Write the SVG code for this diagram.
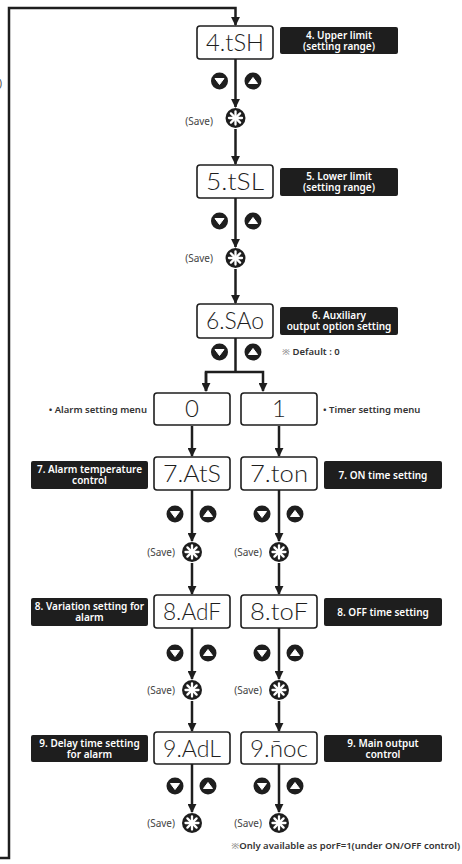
<svg xmlns="http://www.w3.org/2000/svg" xmlns:xlink="http://www.w3.org/1999/xlink" width="462" height="864" viewBox="0 0 462 864">
<style>
.ln{fill:none;stroke:#1e1e1e;stroke-width:2.5}
.box{fill:#fff;stroke:#1e1e1e;stroke-width:1.6}
.seg{font-family:Lato,"Open Sans","DejaVu Sans",sans-serif;font-size:24px;fill:#1e1e1e;text-anchor:middle;font-weight:300}
.lbl{fill:#1e1e1e}
.lt{font-family:"Noto Sans","DejaVu Sans",sans-serif;font-size:10px;font-weight:600;fill:#fff;text-anchor:middle}
.sv{font-family:"Noto Sans","DejaVu Sans",sans-serif;font-size:10px;fill:#444;text-anchor:end}
.note{font-family:"Noto Sans","DejaVu Sans",sans-serif;font-size:9.5px;font-weight:600;fill:#333}
</style>
<defs>
<marker id="ah" viewBox="0 0 10 10" refX="9" refY="5" markerWidth="9" markerHeight="9" markerUnits="userSpaceOnUse" orient="auto"><path d="M0,0 L10,5 L0,10 z" fill="#1e1e1e"/></marker>
<g id="save"><circle r="10" fill="#1e1e1e"/><g stroke="#fff" stroke-width="2.3" stroke-linecap="round"><line x1="0" y1="-6.5" x2="0" y2="6.5"/><line x1="-6.5" y1="0" x2="6.5" y2="0"/><line x1="-4.6" y1="-4.6" x2="4.6" y2="4.6"/><line x1="-4.6" y1="4.6" x2="4.6" y2="-4.6"/></g></g>
<g id="dn"><circle r="8.5" fill="#1e1e1e"/><path d="M-4.5,-2.5 L4.5,-2.5 L0,3.5 z" fill="#fff" stroke="#fff" stroke-width="1" stroke-linejoin="round"/></g>
<g id="up"><circle r="8.5" fill="#1e1e1e"/><path d="M-4.5,2.5 L4.5,2.5 L0,-3.5 z" fill="#fff" stroke="#fff" stroke-width="1" stroke-linejoin="round"/></g>
</defs>
<rect width="462" height="864" fill="#fff"/>
<text x="-1" y="87" class="sv" style="text-anchor:start">)</text>
<g id="connectors">
<path class="ln" d="M0,858 H9 V8 H235.5 V25" marker-end="url(#ah)"/>
<line class="ln" x1="235.5" y1="59" x2="235.5" y2="107" marker-end="url(#ah)"/>
<line class="ln" x1="235.5" y1="129" x2="235.5" y2="164" marker-end="url(#ah)"/>
<line class="ln" x1="235.5" y1="198" x2="235.5" y2="247" marker-end="url(#ah)"/>
<line class="ln" x1="235.5" y1="269" x2="235.5" y2="303" marker-end="url(#ah)"/>
<line class="ln" x1="235.5" y1="338" x2="235.5" y2="372"/>
<path class="ln" d="M206,391 V372 H263 V391" marker-end="url(#ah)"/>
<line class="ln" x1="206" y1="372" x2="206" y2="391" marker-end="url(#ah)"/>
<line class="ln" x1="192" y1="426" x2="192" y2="456" marker-end="url(#ah)"/>
<line class="ln" x1="279" y1="426" x2="279" y2="456" marker-end="url(#ah)"/>
<line class="ln" x1="192" y1="490" x2="192" y2="541" marker-end="url(#ah)"/>
<line class="ln" x1="279" y1="490" x2="279" y2="541" marker-end="url(#ah)"/>
<line class="ln" x1="192" y1="563" x2="192" y2="594" marker-end="url(#ah)"/>
<line class="ln" x1="279" y1="563" x2="279" y2="594" marker-end="url(#ah)"/>
<line class="ln" x1="192" y1="628" x2="192" y2="679" marker-end="url(#ah)"/>
<line class="ln" x1="279" y1="628" x2="279" y2="679" marker-end="url(#ah)"/>
<line class="ln" x1="192" y1="701" x2="192" y2="731" marker-end="url(#ah)"/>
<line class="ln" x1="279" y1="701" x2="279" y2="731" marker-end="url(#ah)"/>
<line class="ln" x1="192" y1="764" x2="192" y2="812" marker-end="url(#ah)"/>
<line class="ln" x1="279" y1="764" x2="279" y2="812" marker-end="url(#ah)"/>
</g>
<g id="icons">
<use xlink:href="#dn" x="219.5" y="81"/><use xlink:href="#up" x="253" y="81"/><use xlink:href="#save" x="235.5" y="118"/>
<text x="213" y="125" class="sv">(Save)</text>
<use xlink:href="#dn" x="219.5" y="221"/><use xlink:href="#up" x="253" y="221"/><use xlink:href="#save" x="235.5" y="258"/>
<text x="213" y="262" class="sv">(Save)</text>
<use xlink:href="#dn" x="219.5" y="352"/><use xlink:href="#up" x="253" y="352"/>
<use xlink:href="#dn" x="175" y="514"/><use xlink:href="#up" x="208" y="514"/><use xlink:href="#save" x="192" y="552"/>
<use xlink:href="#dn" x="262" y="514"/><use xlink:href="#up" x="295" y="514"/><use xlink:href="#save" x="279" y="552"/>
<text x="175" y="556" class="sv">(Save)</text><text x="262" y="556" class="sv">(Save)</text>
<use xlink:href="#dn" x="175" y="653"/><use xlink:href="#up" x="208" y="653"/><use xlink:href="#save" x="192" y="690"/>
<use xlink:href="#dn" x="262" y="653"/><use xlink:href="#up" x="295" y="653"/><use xlink:href="#save" x="279" y="690"/>
<text x="175" y="694" class="sv">(Save)</text><text x="262" y="694" class="sv">(Save)</text>
<use xlink:href="#dn" x="175" y="786"/><use xlink:href="#up" x="208" y="786"/><use xlink:href="#save" x="192" y="823"/>
<use xlink:href="#dn" x="262" y="786"/><use xlink:href="#up" x="295" y="786"/><use xlink:href="#save" x="279" y="823"/>
<text x="175" y="827" class="sv">(Save)</text><text x="262" y="827" class="sv">(Save)</text>
</g>
<g id="n4"><rect class="box" x="197" y="26" width="76" height="33" rx="3"/><text class="seg" x="235" y="51" textLength="58" lengthAdjust="spacingAndGlyphs">4.tSH</text>
<rect class="lbl" x="280" y="27" width="118" height="27" rx="2"/><text class="lt" x="339" y="38.5">4. Upper limit</text><text class="lt" x="339" y="49.5">(setting range)</text></g>
<g id="n5"><rect class="box" x="197" y="165" width="76" height="33" rx="3"/><text class="seg" x="235" y="190" textLength="58" lengthAdjust="spacingAndGlyphs">5.tSL</text>
<rect class="lbl" x="280" y="168" width="118" height="28" rx="2"/><text class="lt" x="339" y="179.5">5. Lower limit</text><text class="lt" x="339" y="190.5">(setting range)</text></g>
<g id="n6"><rect class="box" x="197" y="304" width="76" height="34" rx="3"/><text class="seg" x="235" y="329" textLength="58" lengthAdjust="spacingAndGlyphs">6.SAo</text>
<rect class="lbl" x="280" y="307" width="118" height="28" rx="2"/><text class="lt" x="339" y="318.5">6. Auxiliary</text><text class="lt" x="339" y="329.5">output option setting</text>
<text class="note" x="282" y="355"><tspan fill="#999">※</tspan> Default : 0</text></g>
<g id="n0"><rect class="box" x="154" y="393" width="76" height="32" rx="3"/><text class="seg" x="192" y="417">0</text>
<text class="note" x="147" y="413" text-anchor="end">• Alarm setting menu</text></g>
<g id="n1"><rect class="box" x="241" y="393" width="76" height="32" rx="3"/><text class="seg" x="279" y="417">1</text>
<text class="note" x="323" y="413">• Timer setting menu</text></g>
<g id="n7a"><rect class="box" x="154" y="457" width="76" height="33" rx="3"/><text class="seg" x="192" y="482" textLength="58" lengthAdjust="spacingAndGlyphs">7.AtS</text>
<rect class="lbl" x="31" y="461" width="117" height="28" rx="2"/><text class="lt" x="89.5" y="472.5">7. Alarm temperature</text><text class="lt" x="89.5" y="483.5">control</text></g>
<g id="n7b"><rect class="box" x="241" y="457" width="76" height="33" rx="3"/><text class="seg" x="279" y="482" textLength="58" lengthAdjust="spacingAndGlyphs">7.ton</text>
<rect class="lbl" x="324" y="461" width="118" height="28" rx="2"/><text class="lt" x="383" y="479">7. ON time setting</text></g>
<g id="n8a"><rect class="box" x="154" y="595" width="76" height="33" rx="3"/><text class="seg" x="192" y="620" textLength="58" lengthAdjust="spacingAndGlyphs">8.AdF</text>
<rect class="lbl" x="31" y="598" width="117" height="28" rx="2"/><text class="lt" x="89.5" y="609.5">8. Variation setting for</text><text class="lt" x="89.5" y="620.5">alarm</text></g>
<g id="n8b"><rect class="box" x="241" y="595" width="76" height="33" rx="3"/><text class="seg" x="279" y="620" textLength="58" lengthAdjust="spacingAndGlyphs">8.toF</text>
<rect class="lbl" x="324" y="598" width="118" height="28" rx="2"/><text class="lt" x="383" y="616">8. OFF time setting</text></g>
<g id="n9a"><rect class="box" x="154" y="732" width="76" height="32" rx="3"/><text class="seg" x="192" y="757" textLength="58" lengthAdjust="spacingAndGlyphs">9.AdL</text>
<rect class="lbl" x="31" y="735" width="117" height="27" rx="2"/><text class="lt" x="89.5" y="746.5">9. Delay time setting</text><text class="lt" x="89.5" y="757.5">for alarm</text></g>
<g id="n9b"><rect class="box" x="241" y="732" width="76" height="32" rx="3"/><text class="seg" x="279" y="757" textLength="58" lengthAdjust="spacingAndGlyphs">9.n̄oc</text>
<rect class="lbl" x="324" y="735" width="118" height="27" rx="2"/><text class="lt" x="383" y="746.5">9. Main output</text><text class="lt" x="383" y="757.5">control</text></g>
<text class="note" x="460" y="849" text-anchor="end"><tspan fill="#999">※</tspan>Only available as porF=1(under ON/OFF control)</text>
</svg>
